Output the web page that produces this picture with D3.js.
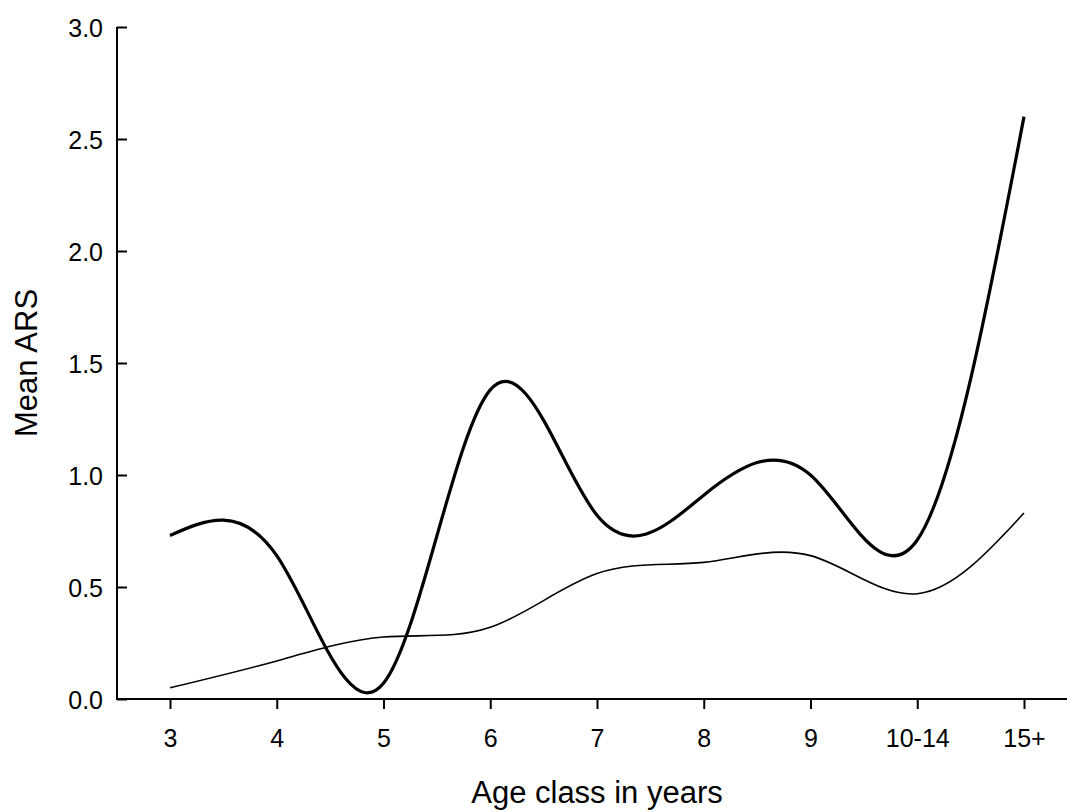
<!DOCTYPE html>
<html>
<head>
<meta charset="utf-8">
<script src="https://cdn.jsdelivr.net/npm/d3@7"></script>
<style>
  html, body { margin: 0; padding: 0; background: #fff; }
  svg text { font-family: "Liberation Sans", Arial, sans-serif; fill: #000; }
</style>
</head>
<body>
<svg id="chart" width="1067" height="812"></svg>
<script>
// Age classes on the x axis
const ageClasses = ["3", "4", "5", "6", "7", "8", "9", "10-14", "15+"];
// Mean ARS per age class, two groups
const thickSeries = [0.73, 0.64, 0.07, 1.38, 0.82, 0.91, 1.0, 0.71, 2.6];
const thinSeries  = [0.05, 0.17, 0.277, 0.32, 0.56, 0.61, 0.64, 0.47, 0.83];
// y axis ticks
const yTicks = [0, 0.5, 1.0, 1.5, 2.0, 2.5, 3.0];

const svg = d3.select("#chart");
const plotLeft = 117, plotTop = 27, plotBottom = 699, plotRight = 1090;

const x = d3.scalePoint().domain(ageClasses).range([170, 1024]);
const y = d3.scaleLinear().domain([0, 3]).range([plotBottom, plotTop]);

// axes
svg.append("line").attr("x1", plotLeft).attr("x2", plotLeft).attr("y1", plotTop).attr("y2", plotBottom)
  .attr("stroke", "#000").attr("stroke-width", 2);
svg.append("line").attr("x1", plotLeft - 1).attr("x2", plotRight).attr("y1", plotBottom).attr("y2", plotBottom)
  .attr("stroke", "#000").attr("stroke-width", 2);

const yAxis = d3.axisRight(y).tickValues(yTicks).tickSize(10).tickFormat(d3.format(".1f"));
const gy = svg.append("g").attr("transform", `translate(${plotLeft},0)`).call(yAxis);
gy.select(".domain").remove();
gy.selectAll(".tick line").attr("stroke", "#000").attr("stroke-width", 2);
gy.selectAll(".tick text").attr("x", -14).attr("text-anchor", "end")
  .attr("font-size", 25).attr("dy", "0.36em");

const xAxis = d3.axisBottom(x).tickSize(10);
const gx = svg.append("g").attr("transform", `translate(0,${plotBottom})`).call(xAxis);
gx.select(".domain").remove();
gx.selectAll(".tick line").attr("stroke", "#000").attr("stroke-width", 2);
gx.selectAll(".tick text").attr("font-size", 25).attr("dy", 0).attr("y", 48);

// axis titles
svg.append("text").attr("x", 597).attr("y", 803).attr("text-anchor", "middle")
  .attr("font-size", 31).text("Age class in years");
svg.append("text").attr("transform", `translate(37,363) rotate(-90)`)
  .attr("text-anchor", "middle").attr("font-size", 31).text("Mean ARS");

// smoothed series (natural cubic spline through the class means)
const line = d3.line().x((d, i) => x(ageClasses[i])).y(d => y(d)).curve(d3.curveNatural);
svg.append("path").datum(thinSeries).attr("d", line)
  .attr("fill", "none").attr("stroke", "#000").attr("stroke-width", 1.6);
svg.append("path").datum(thickSeries).attr("d", line)
  .attr("fill", "none").attr("stroke", "#000").attr("stroke-width", 3.2);
</script>
</body>
</html>
